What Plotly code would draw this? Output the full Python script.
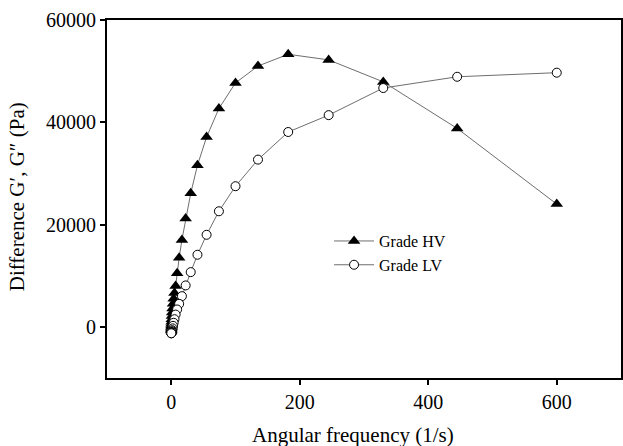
import plotly.graph_objects as go

freq = [600, 445, 330, 245, 182, 135, 100, 74.2, 55.0, 40.8, 30.3, 22.4, 16.6, 12.3,
        9.15, 6.79, 5.03, 3.73, 2.77, 2.05, 1.52, 1.13, 0.84, 0.62, 0.46, 0.34,
        0.25, 0.19, 0.14, 0.10]

grade_hv = [24000, 38800, 47900, 52200, 53300, 51000, 47700, 42700, 37100, 31600,
            26100, 21200, 17000, 13500, 10500, 8000, 6600, 5500, 4500, 3600,
            2800, 2100, 1500, 1000, 600, 250, -50, -300, -500, -700]

grade_lv = [49700, 48900, 46700, 41400, 38100, 32700, 27500, 22600, 18000, 14100,
            10700, 8100, 6000, 4500, 3400, 2400, 1500, 800, 200, -300,
            -650, -850, -1000, -1100, -1150, -1200, -1200, -1250, -1250, -1250]

x_ticks = [0, 200, 400, 600]
y_ticks = [0, 20000, 40000, 60000]

x_title = "Angular frequency (1/s)"
y_title = "Difference G\u2032, G\u2033 (Pa)"

FONT = "Liberation Serif"

fig = go.Figure()
fig.add_trace(go.Scatter(
    x=freq, y=grade_hv, mode="lines+markers", name="Grade HV",
    line=dict(color="#6e6e6e", width=1),
    marker=dict(symbol="triangle-up", size=11, color="black",
                line=dict(color="black", width=0)),
))
fig.add_trace(go.Scatter(
    x=freq, y=grade_lv, mode="lines+markers", name="Grade LV",
    line=dict(color="#6e6e6e", width=1),
    marker=dict(symbol="circle", size=9, color="white",
                line=dict(color="black", width=1)),
))

fig.update_layout(
    width=623, height=446,
    margin=dict(l=107, r=2, t=20, b=68, autoexpand=False),
    paper_bgcolor="white", plot_bgcolor="white",
    font=dict(family=FONT, color="black", size=20),
    showlegend=True,
    legend=dict(x=0.432, y=0.43, xanchor="left", yanchor="top",
                bgcolor="rgba(0,0,0,0)", font=dict(family=FONT, size=16),
                itemwidth=40, tracegroupgap=0),
    annotations=[
        dict(text=x_title, xref="paper", yref="paper", x=0.478, y=-0.16,
             xanchor="center", yanchor="middle", showarrow=False,
             font=dict(family=FONT, size=21)),
        dict(text=y_title, xref="paper", yref="paper", x=-0.175, y=0.505,
             xanchor="center", yanchor="middle", showarrow=False, textangle=-90,
             font=dict(family=FONT, size=21)),
    ],
)
fig.update_xaxes(
    range=[-100, 700], tickvals=x_ticks, ticktext=[str(v) for v in x_ticks],
    showgrid=False, zeroline=False, showline=True, linecolor="black", linewidth=2,
    mirror=True, ticks="outside", ticklen=5, tickwidth=1.5, tickcolor="black",
    tickfont=dict(family=FONT, size=20), automargin=False,
)
fig.update_yaxes(
    range=[-10000, 60000], tickvals=y_ticks, ticktext=[str(v) for v in y_ticks],
    showgrid=False, zeroline=False, showline=True, linecolor="black", linewidth=2,
    mirror=True, ticks="outside", ticklen=5, tickwidth=1.5, tickcolor="black",
    tickfont=dict(family=FONT, size=20), automargin=False,
)

fig.write_html("out.html",
               config={"displayModeBar": False},
               post_script="document.body.style.margin='0';document.body.style.overflow='hidden';")
